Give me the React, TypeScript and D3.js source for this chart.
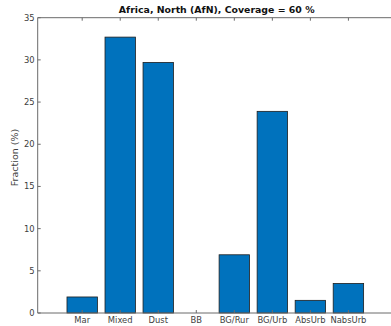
import * as d3 from "d3";

const categories = ["Mar", "Mixed", "Dust", "BB", "BG/Rur", "BG/Urb", "AbsUrb", "NabsUrb"];
const fractions = [1.9, 32.7, 29.7, 0, 6.9, 23.9, 1.5, 3.5];
const yTicks = [0, 5, 10, 15, 20, 25, 30, 35];
const title = "Africa, North (AfN), Coverage = 60 %";

const W = 391;
const H = 326;
const font = "DejaVu Sans, sans-serif";
const axisColor = "#6b6b6b";
const textColor = "#404040";

export default function App() {
  const x = d3.scaleLinear().domain([-0.17, 9.12]).range([37.7, 391]);
  const y = d3.scaleLinear().domain([0, 35]).range([313, 17.7]);
  const barW = x(0.8) - x(0);
  const left = x.range()[0];
  const right = x.range()[1];
  const top = y(35);
  const bottom = y(0);

  return (
    <svg width={W} height={H} style={{ position: "absolute", left: 0, top: 0, background: "#fff" }}>
      <text x={216.7} y={13.3} textAnchor="middle" fontFamily={font} fontSize={9.4} fontWeight="bold" fill="#111">
        {title}
      </text>

      {fractions.map((v, i) =>
        v > 0 ? (
          <rect
            key={categories[i]}
            x={x(i + 1) - barW / 2}
            y={y(v)}
            width={barW}
            height={y(0) - y(v)}
            fill="#0072BD"
            stroke="#1e1e1e"
            strokeWidth={0.8}
          />
        ) : null
      )}

      {/* box */}
      <line x1={left} x2={right} y1={top} y2={top} stroke={axisColor} strokeWidth={1} />
      <line x1={left} x2={right} y1={bottom} y2={bottom} stroke={axisColor} strokeWidth={1} />
      <line x1={left} x2={left} y1={top} y2={bottom} stroke={axisColor} strokeWidth={1} />

      {yTicks.map((t) => (
        <g key={t}>
          <line x1={left} x2={left + 3} y1={y(t)} y2={y(t)} stroke={axisColor} />
          <text x={left - 3} y={y(t) + 3} textAnchor="end" fontFamily={font} fontSize={8.4} fill={textColor}>
            {t}
          </text>
        </g>
      ))}

      {categories.map((c, i) => (
        <g key={c}>
          <line x1={x(i + 1)} x2={x(i + 1)} y1={top} y2={top + 3} stroke={axisColor} />
          <line x1={x(i + 1)} x2={x(i + 1)} y1={bottom} y2={bottom - 3} stroke={axisColor} />
          <text x={x(i + 1)} y={bottom + 10} textAnchor="middle" fontFamily={font} fontSize={8.4} fill={textColor}>
            {c}
          </text>
        </g>
      ))}

      <text
        transform={`translate(18,157.5) rotate(-90)`}
        textAnchor="middle"
        fontFamily={font}
        fontSize={9.5}
        fill={textColor}
      >
        Fraction (%)
      </text>
    </svg>
  );
}
